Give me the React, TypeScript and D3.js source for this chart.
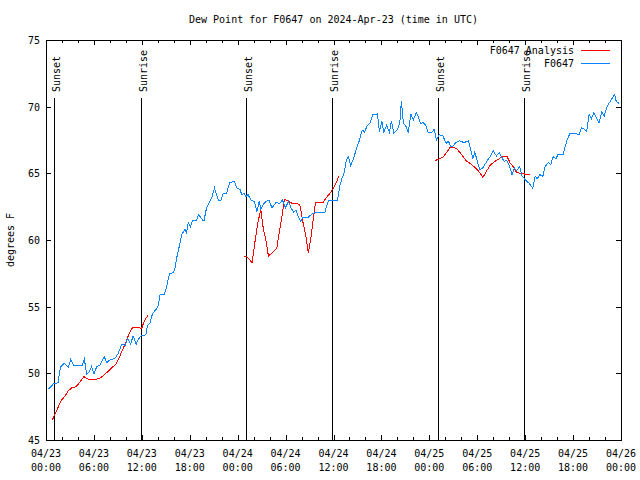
import React from "react";
import * as d3 from "d3";

const TITLE = "Dew Point for F0647 on 2024-Apr-23 (time in UTC)";
const Y_LABEL = "degrees F";
const SERIES_NAMES = ["F0647 Analysis", "F0647"];
const SERIES_COLORS = ["#ff0000", "#0a84ff"];
const Y_TICKS = [45, 50, 55, 60, 65, 70, 75];

// hours since 2024-04-23 00:00 UTC
const SUN_EVENTS = [
  { h: 1.04, label: "Sunset" },
  { h: 11.93, label: "Sunrise" },
  { h: 25.08, label: "Sunset" },
  { h: 35.85, label: "Sunrise" },
  { h: 49.13, label: "Sunset" },
  { h: 59.9, label: "Sunrise" },
];

const OBS_HOURS = [
  0.3, 0.7, 0.9, 1.5, 1.8, 2.25, 2.8, 3.1, 3.5, 4.0, 4.5, 4.8, 5.1, 5.4, 5.7, 6.0, 6.35, 6.75, 7.3, 7.6,
  8.1, 8.6, 9.05, 9.5, 9.9, 10.2, 10.6, 10.9, 11.3, 11.55, 11.9, 12.5, 12.7, 13.0, 13.35, 13.8, 14.05,
  14.3, 14.8, 15.1, 15.45, 15.95, 16.15, 16.4, 16.7, 17.0, 17.4, 17.6, 17.8, 18.1, 18.35, 18.85, 19.1,
  19.6, 19.8, 20.1, 20.5, 20.8, 21.1, 21.3, 21.6, 21.9, 22.2, 22.6, 23.0, 23.6, 23.9, 24.3, 24.5, 24.8,
  25.0, 25.3, 25.7, 26.1, 26.4, 26.7, 26.9, 27.3, 27.6, 27.9, 28.3, 28.8, 29.3, 29.6, 30.0, 30.35, 30.7,
  31.0, 31.3, 31.5, 31.9, 32.2, 32.8, 33.3, 33.7, 34.3, 34.9, 35.35, 35.8, 36.5, 36.8, 37.1, 37.35, 37.6,
  37.85, 38.15, 38.5, 38.9, 39.2, 39.6, 39.9, 40.2, 40.6, 40.9, 41.5, 41.75, 42.05, 42.3, 42.65, 43.0,
  43.25, 43.55, 44.0, 44.3, 44.5, 44.75, 45.1, 45.35, 45.7, 46.0, 46.35, 46.6, 46.9, 47.25, 47.6, 47.85,
  48.3, 48.6, 48.9, 49.25, 49.7, 50.1, 50.4, 50.7, 51.0, 51.3, 51.75, 52.35, 52.9, 53.2, 53.45, 53.7,
  54.0, 54.35, 54.75, 55.2, 55.6, 56.0, 56.4, 56.75, 57.05, 57.35, 57.7, 58.0, 58.35, 58.65, 58.95,
  59.3, 59.6, 59.9, 60.2, 60.5, 60.95, 61.25, 61.5, 61.85, 62.2, 62.5, 62.9, 63.2, 63.5, 63.85, 64.1,
  64.75, 65.0, 65.25, 65.6, 66.2, 66.75, 67.05, 67.3, 67.7, 68.0, 68.3, 68.6, 68.95, 69.25, 69.6, 69.9,
  70.2, 70.5, 70.8, 71.2, 71.4, 71.75,
];
const OBS_VALUES = [
  48.8, 49.05, 49.2, 49.3, 50.45, 50.75, 50.45, 51.05, 50.55, 50.6, 50.55, 51.05, 49.95, 50.1, 50.5,
  49.95, 50.5, 50.6, 51.25, 50.8, 51.05, 51.1, 51.5, 52.2, 52.1, 52.6, 52.2, 52.8, 52.2, 52.55, 52.8,
  52.9, 53.6, 53.75, 54.5, 54.8, 55.05, 55.95, 55.9, 56.5, 57.45, 57.55, 57.9, 58.75, 59.55, 60.4, 60.8,
  60.55, 61.3, 61.0, 61.5, 61.5, 61.9, 61.5, 61.5, 62.4, 62.9, 63.25, 63.9, 63.5, 63.0, 63.0, 63.5, 63.5,
  64.3, 64.4, 63.9, 63.8, 63.4, 63.5, 63.25, 63.4, 62.95, 62.9, 62.1, 62.9, 62.3, 62.75, 62.9, 63.0,
  62.4, 62.8, 62.75, 63.0, 62.4, 62.9, 62.4, 62.1, 62.25, 61.9, 61.4, 61.7, 61.7, 61.95, 62.05, 62.05,
  62.05, 62.95, 62.95, 62.95, 64.1, 64.7, 65.05, 66.0, 66.25, 65.6, 66.1, 66.9, 67.4, 68.25, 68.1, 68.55,
  68.8, 69.4, 69.45, 68.1, 68.9, 68.1, 68.6, 68.1, 68.9, 68.0, 68.3, 68.75, 70.4, 68.75, 68.5, 68.1,
  69.45, 69.0, 69.55, 69.25, 68.75, 68.8, 68.55, 68.1, 68.05, 68.3, 67.5, 67.9, 67.8, 67.25, 67.4, 67.0,
  67.05, 67.3, 67.45, 67.3, 67.45, 66.75, 66.1, 66.6, 65.9, 65.25, 65.45, 65.9, 66.25, 66.7, 66.3, 66.55,
  66.25, 65.9, 65.95, 65.6, 64.9, 65.4, 65.2, 65.5, 64.8, 64.6, 64.4, 64.25, 63.9, 64.8, 64.6, 64.9,
  64.75, 65.5, 65.8, 65.65, 66.25, 66.1, 66.4, 66.4, 67.0, 67.5, 68.0, 68.0, 67.9, 68.4, 68.35, 68.15,
  69.4, 69.1, 69.55, 69.15, 68.8, 69.6, 69.3, 69.9, 70.25, 70.55, 70.9, 70.4, 70.25,
];

// NaN marks a gap in the analysis series
const ANA_HOURS = [
  0.8, 1.1, 1.55, 1.95, 2.4, 2.8, 3.2, 3.75, 4.2, 4.75, 5.1, 5.7, 6.7, 7.6, 8.75, 9.25, 9.9, 10.4, 10.85,
  11.75, 12.0, 12.2, 12.5, 12.8, 18.0,
  24.8, 25.25, 25.8, 26.2, 26.5, 26.9, 27.2, 27.5, 27.85, 28.35, 28.9, 29.3, 29.6, 29.85, 30.35, 30.8,
  31.4, 31.8, 32.2, 32.55, 32.85, 33.2, 33.45, 33.75, 34.7, 35.0, 35.55, 36.0, 36.4, 36.7, 42.0,
  48.7, 49.1, 49.75, 50.2, 50.6, 51.0, 51.5, 52.05, 52.6, 53.2, 53.7, 54.25, 54.7, 55.1, 55.6, 56.1,
  56.75, 57.05, 57.75, 58.1, 58.5, 58.9, 59.3, 59.7, 60.15, 60.6,
];
const ANA_VALUES = [
  46.5, 46.9, 47.5, 48.0, 48.3, 48.7, 48.9, 49.0, 49.3, 49.75, 49.6, 49.5, 49.6, 50.05, 50.7, 51.3, 52.2,
  52.95, 53.45, 53.4, 53.4, 53.75, 54.1, 54.4, NaN,
  58.8, 58.7, 58.3, 60.0, 61.25, 62.25, 60.9, 60.1, 58.8, 59.05, 59.4, 60.9, 62.0, 63.05, 62.9, 62.75,
  62.75, 62.6, 61.25, 60.25, 59.0, 60.25, 61.5, 62.8, 62.8, 63.1, 63.5, 63.9, 64.4, 64.8, NaN,
  65.95, 66.05, 66.25, 66.6, 66.95, 66.95, 66.8, 66.4, 65.95, 65.7, 65.45, 65.1, 64.7, 65.1, 65.6, 65.85,
  66.1, 66.25, 66.25, 65.8, 65.5, 65.1, 65.0, 65.0, 64.9, 64.9,
];

const START = Date.UTC(2024, 3, 23, 0, 0);
const END = Date.UTC(2024, 3, 26, 0, 0);
const HOUR = 3600 * 1000;

const W = 640;
const H = 480;
const L = 46;
const R = 621;
const T = 40;
const B = 440;
const FONT = "'DejaVu Sans Mono', 'Liberation Mono', monospace";

export default function App() {
  const x = d3.scaleUtc().domain([new Date(START), new Date(END)]).range([L, R]);
  const y = d3.scaleLinear().domain([45, 75]).range([B, T]);
  const tx = (h: number) => x(new Date(START + h * HOUR));

  const obs = OBS_HOURS.map((h, i) => [h, OBS_VALUES[i]] as [number, number]);
  const ana = ANA_HOURS.map((h, i) => [h, ANA_VALUES[i]] as [number, number]);

  const line = d3
    .line<[number, number]>()
    .defined((d) => !isNaN(d[1]))
    .x((d) => tx(d[0]))
    .y((d) => y(d[1]));

  const majorTicks = d3.utcHour.every(6)!.range(new Date(START), new Date(END + 1));
  const minorTicks = d3.utcHour.every(2)!.range(new Date(START), new Date(END + 1));
  const fmtDate = d3.utcFormat("%m/%d");
  const fmtTime = d3.utcFormat("%H:%M");

  return (
    <svg
      width={W}
      height={H}
      style={{ position: "absolute", left: 0, top: 0, background: "#fff" }}
      fontFamily={FONT}
      fontSize={10}
    >
      <rect x={0} y={0} width={W} height={H} fill="#fff" />
      <text x={(L + R) / 2} y={23} textAnchor="middle" fill="#000">
        {TITLE}
      </text>
      <text transform={`translate(14,${(T + B) / 2}) rotate(-90)`} textAnchor="middle" fill="#000">
        {Y_LABEL}
      </text>

      {/* y ticks */}
      {Y_TICKS.map((v) => (
        <g key={`y${v}`} shapeRendering="crispEdges">
          <line x1={L} x2={L + 5} y1={Math.round(y(v)) + 0.5} y2={Math.round(y(v)) + 0.5} stroke="#000" />
          <line x1={R - 5} x2={R} y1={Math.round(y(v)) + 0.5} y2={Math.round(y(v)) + 0.5} stroke="#000" />
          <text x={40} y={y(v) + 4} textAnchor="end" fill="#000">
            {v}
          </text>
        </g>
      ))}

      {/* x ticks */}
      {minorTicks.map((d, i) => {
        const xx = Math.round(x(d)) + 0.5;
        const len = d.getUTCHours() % 6 === 0 ? 5 : 3;
        return (
          <g key={`mx${i}`} shapeRendering="crispEdges">
            <line x1={xx} x2={xx} y1={B} y2={B - len} stroke="#000" />
            <line x1={xx} x2={xx} y1={T} y2={T + len} stroke="#000" />
          </g>
        );
      })}
      {majorTicks.map((d, i) => (
        <g key={`x${i}`}>
          <text x={x(d)} y={457} textAnchor="middle" fill="#000">
            {fmtDate(d)}
          </text>
          <text x={x(d)} y={471} textAnchor="middle" fill="#000">
            {fmtTime(d)}
          </text>
        </g>
      ))}

      {/* sunrise / sunset */}
      {SUN_EVENTS.map((e, i) => {
        const xx = Math.round(tx(e.h)) + 0.5;
        return (
          <g key={`s${i}`}>
            <line x1={xx} x2={xx} y1={98} y2={B} stroke="#000" shapeRendering="crispEdges" />
            <text transform={`translate(${xx + 5},92) rotate(-90)`} textAnchor="start" fill="#000">
              {e.label}
            </text>
          </g>
        );
      })}

      {/* series */}
      <path d={line(ana) || ""} fill="none" stroke={SERIES_COLORS[0]} strokeWidth={1} shapeRendering="crispEdges" />
      <path d={line(obs) || ""} fill="none" stroke={SERIES_COLORS[1]} strokeWidth={1} shapeRendering="crispEdges" />

      {/* border */}
      <rect x={L + 0.5} y={T + 0.5} width={R - L} height={B - T} fill="none" stroke="#000" shapeRendering="crispEdges" />

      {/* legend */}
      {SERIES_NAMES.map((n, i) => (
        <g key={n}>
          <text x={574} y={54 + i * 13} textAnchor="end" fill="#000">
            {n}
          </text>
          <line x1={581} x2={610} y1={50.5 + i * 13} y2={50.5 + i * 13} stroke={SERIES_COLORS[i]} shapeRendering="crispEdges" />
        </g>
      ))}
    </svg>
  );
}
